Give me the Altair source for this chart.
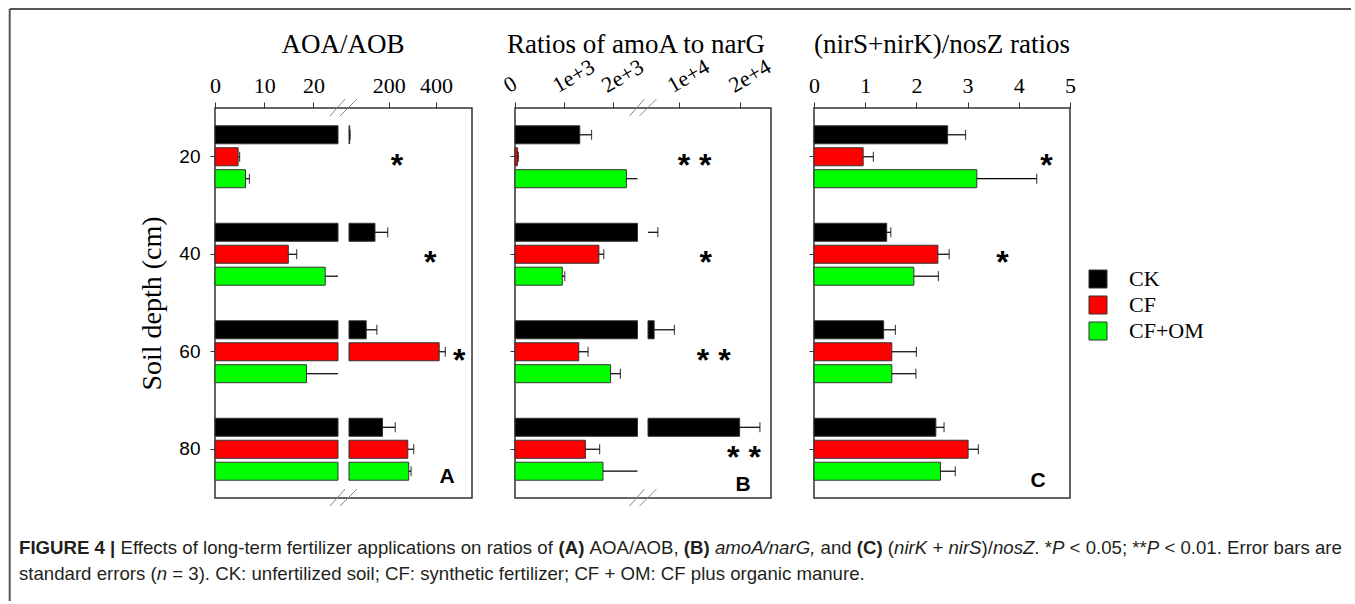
import altair as alt
import pandas as pd

SERIF = "Liberation Serif"
SANS = "Liberation Sans"

depths = [20, 40, 60, 80]
treatments = ["CK", "CF", "CF+OM"]
fill_colors = ["#000000", "#ff0000", "#00ff00"]

# ---- (A) AOA/AOB ----
a_mean_ck = [35, 142, 105, 174]
a_mean_cf = [4.7, 14.9, 414, 281]
a_mean_om = [6.2, 22.4, 18.6, 285]
a_se_ck = [1.5, 54, 45, 54]
a_se_cf = [0.3, 1.7, 26, 25]
a_se_om = [0.8, 3.5, 8, 10]

# ---- (B) amoA/narG ----
b_mean_ck = [1322, 4600, 6000, 19900]
b_mean_cf = [50, 1712, 1302, 1437]
b_mean_om = [2273, 965, 1951, 1795]
b_se_ck = [240, 2000, 3300, 3300]
b_se_cf = [20, 100, 190, 290]
b_se_om = [350, 50, 200, 800]

# ---- (C) (nirS+nirK)/nosZ ----
c_mean_ck = [2.61, 1.42, 1.36, 2.38]
c_mean_cf = [0.96, 2.42, 1.52, 3.01]
c_mean_om = [3.18, 1.95, 1.52, 2.47]
c_se_ck = [0.35, 0.08, 0.23, 0.16]
c_se_cf = [0.20, 0.22, 0.48, 0.20]
c_se_om = [1.17, 0.48, 0.47, 0.29]

# significance marks (depth, label, x position in data units)
a_sig_depth = [20, 40, 60]
a_sig_text = ["*", "*", "*"]
a_sig_x = [235, 376, 499]
b_sig_depth = [20, 40, 60, 80]
b_sig_text = ["* *", "*", "* *", "* *"]
b_sig_x = [12570, 14370, 15680, 20600]
c_sig_depth = [20, 40]
c_sig_text = ["*", "*"]
c_sig_x = [4.54, 3.68]

# axis breaks / tick values
a_left_dom, a_right_dom = [0, 25], [32, 553]
a_left_ticks, a_right_ticks = [0, 10, 20], [200, 400]
b_left_dom, b_right_dom = [0, 2500], [5000, 25000]
b_left_ticks, b_right_ticks = [0, 1000, 2000], [10000, 20000]
c_dom, c_ticks = [0, 5], [0, 1, 2, 3, 4, 5]


def long_df(means, ses):
    rows = []
    for t, m, s in zip(treatments, means, ses):
        for d, mv, sv in zip(depths, m, s):
            rows.append({"depth": d, "treatment": t, "mean": mv, "se": sv, "upper": mv + sv})
    return pd.DataFrame(rows)


dfA = long_df([a_mean_ck, a_mean_cf, a_mean_om], [a_se_ck, a_se_cf, a_se_om])
dfB = long_df([b_mean_ck, b_mean_cf, b_mean_om], [b_se_ck, b_se_cf, b_se_om])
dfC = long_df([c_mean_ck, c_mean_cf, c_mean_om], [c_se_ck, c_se_cf, c_se_om])

sigA = pd.DataFrame({"depth": a_sig_depth, "label": a_sig_text, "x": a_sig_x, "treatment": "CF"})
sigB = pd.DataFrame({"depth": b_sig_depth, "label": b_sig_text, "x": b_sig_x, "treatment": "CF"})
sigC = pd.DataFrame({"depth": c_sig_depth, "label": c_sig_text, "x": c_sig_x, "treatment": "CF"})

# one identical legend definition everywhere so the shared legend merges cleanly
LEGEND = alt.Legend(
    orient="none", legendX=872, legendY=160, title=None,
    symbolType="square", symbolSize=324, symbolStrokeColor="#333333", symbolStrokeWidth=1,
    labelFont=SERIF, labelFontSize=22, labelColor="black", labelOffset=20,
    rowPadding=4, padding=0,
)

yaxis_A = alt.Axis(
    title="Soil depth (cm)", titleFont=SERIF, titleFontSize=28, titleFontWeight="normal",
    titleColor="black", titlePadding=12,
    labelFont=SANS, labelFontSize=19, labelColor="black", labelPadding=10,
    tickSize=5, tickColor="#333333", domain=False, grid=False,
)
yaxis_plain = alt.Axis(title=None, labels=False, tickSize=5, tickColor="#333333", domain=False, grid=False)

yoff = alt.YOffset("treatment:N", sort=treatments,
                   scale=alt.Scale(paddingInner=0.18, paddingOuter=0.81))


def y_enc(axis):
    return alt.Y("depth:O", sort=depths, scale=alt.Scale(paddingInner=0, paddingOuter=0), axis=axis)


def x_axis(values, angle=0, align="center", expr=None, dx=0):
    kw = dict(orient="top", values=values, title=None, domain=False, grid=False,
              tickSize=6, tickColor="#333333", labelFont=SERIF, labelFontSize=22,
              labelColor="black", labelPadding=5, labelAngle=angle, labelAlign=align,
              labelFlush=False, labelOverlap=False)
    if expr:
        kw["labelExpr"] = expr
    if dx:
        kw["labelOffset"] = dx
    return alt.Axis(**kw)


COLOR = alt.Color("treatment:N", sort=treatments,
                  scale=alt.Scale(domain=treatments, range=fill_colors),
                  legend=LEGEND)


def segment(df, dom, rng, xaxis, yaxis, sig=None):
    lo, hi = dom
    sc = alt.Scale(domain=dom, range=rng, clamp=True, zero=False, nice=False)
    base = alt.Chart(df)
    bars = base.transform_filter(f"datum.mean > {lo}").mark_bar(
        stroke="#333333", strokeWidth=1
    ).encode(
        x=alt.X("mean:Q", scale=sc, axis=xaxis), x2=alt.datum(lo),
        y=y_enc(yaxis), yOffset=yoff, color=COLOR,
    )
    err = base.transform_filter(f"datum.mean < {hi} && datum.upper > {lo}").mark_rule(
        color="black", strokeWidth=1.2
    ).encode(
        x=alt.X("mean:Q", scale=sc, axis=xaxis), x2="upper:Q",
        y=y_enc(yaxis), yOffset=yoff,
    )
    caps = base.transform_filter(f"datum.upper > {lo} && datum.upper < {hi}").mark_tick(
        color="black", thickness=1.2, size=10
    ).encode(
        x=alt.X("upper:Q", scale=sc, axis=xaxis),
        y=y_enc(yaxis), yOffset=yoff,
    )
    layers = [bars, err, caps]
    if sig is not None:
        stars = alt.Chart(sig).mark_text(
            font=SANS, fontSize=32, fontWeight="bold", color="black",
            baseline="alphabetic", align="center", dy=19
        ).encode(
            x=alt.X("x:Q", scale=sc, axis=xaxis),
            y=y_enc(yaxis), yOffset=yoff, text="label:N",
        )
        layers.append(stars)
    return alt.layer(*layers)


one = pd.DataFrame({"k": [0]})


def deco_text(text, x, y, **kw):
    return alt.Chart(one).mark_text(text=text, **kw).encode(x=alt.value(x), y=alt.value(y))


def slash(x1, y1, x2, y2):
    return alt.Chart(one).mark_rule(color="#888888", strokeWidth=1).encode(
        x=alt.value(x1), x2=alt.value(x2), y=alt.value(y1), y2=alt.value(y2))


def breaks(gap_left):
    out = []
    for yc in (0, 390):
        out.append(slash(gap_left - 8, yc + 8, gap_left + 7, yc - 9))
        out.append(slash(gap_left + 2, yc + 8, gap_left + 19, yc - 9))
    return out


def panel_title(text, x):
    return deco_text(text, x, -55, font=SERIF, fontSize=27, color="black",
                     align="center", baseline="alphabetic")


def panel_letter(text, x, y):
    return deco_text(text, x, y, font=SANS, fontSize=21, fontWeight="bold",
                     align="center", baseline="middle", color="black")


VIEW = alt.ViewBackground(stroke="#333333", strokeWidth=1.5)

# ---- caption (with simple Arial-metric layout for mixed styles) ----
W_REG = {" ": 278, "(": 333, ")": 333, "*": 389, "+": 584, ",": 278, "-": 333, ".": 278, "/": 278,
         ":": 278, ";": 278, "<": 584, "=": 584, "|": 260,
         "A": 667, "B": 667, "C": 722, "E": 667, "F": 611, "G": 778, "I": 278, "K": 667, "M": 833,
         "O": 778, "P": 667, "R": 722, "S": 667, "U": 722, "Z": 611,
         "a": 556, "b": 556, "c": 500, "d": 556, "e": 556, "f": 278, "g": 556, "h": 556, "i": 222,
         "k": 500, "l": 222, "m": 833, "n": 556, "o": 556, "p": 556, "r": 333, "s": 500, "t": 278,
         "u": 556, "v": 500, "w": 722, "x": 500, "y": 500, "z": 500}
W_BOLD = {" ": 278, "(": 333, ")": 333, "|": 280, "A": 722, "B": 722, "C": 722, "E": 667, "F": 611,
          "G": 778, "I": 278, "R": 722, "U": 722}


def text_w(s, bold=False):
    tab = W_BOLD if bold else W_REG
    return sum(tab.get(ch, W_REG.get(ch, 556)) for ch in s) / 1000.0


line1 = [("FIGURE 4 |", "b"), (" ", "n"),
         ("Effects of long-term fertilizer applications on ratios of", "n"), (" ", "n"),
         ("(A)", "b"), (" ", "n"), ("AOA/AOB,", "n"), (" ", "n"), ("(B)", "b"), (" ", "n"),
         ("amoA/narG,", "i"), (" ", "n"), ("and", "n"), (" ", "n"), ("(C)", "b"), (" ", "n"),
         ("(", "n"), ("nirK + nirS", "i"), (")/", "n"), ("nosZ", "i"), (". *", "n"), ("P", "i"),
         (" ", "n"), ("< 0.05; **", "n"), ("P", "i"), (" ", "n"), ("< 0.01. Error bars are", "n")]
line2 = [("standard errors (", "n"), ("n", "i"),
         (" ", "n"), ("= 3). CK: unfertilized soil; CF: synthetic fertilizer; CF + OM: CF plus organic manure.", "n")]

# positions below are relative to panel A's plot origin (213.3, 107) in the page
CAP_X0, CAP_X1 = -196, 1127
line1_em = sum(text_w(s, st == "b") for s, st in line1)
CAP_FS = (CAP_X1 - CAP_X0) / line1_em


def caption_line(parts, y):
    out = []
    x = CAP_X0
    for s, st in parts:
        if s.strip():
            kw = dict(font=SANS, fontSize=CAP_FS, color="#231f20", align="left", baseline="middle")
            if st == "b":
                kw["fontWeight"] = "bold"
            if st == "i":
                kw["fontStyle"] = "italic"
            out.append(deco_text(s, x, y, **kw))
        x += text_w(s, st == "b") * CAP_FS
    return out


frame_left = alt.Chart(one).mark_rule(color="#555555", strokeWidth=2).encode(
    x=alt.value(-205.3), y=alt.value(-99), y2=alt.value(493))
frame_top = alt.Chart(one).mark_rule(color="#555555", strokeWidth=2).encode(
    x=alt.value(-205.3), x2=alt.value(1136), y=alt.value(-99))

panelA = alt.layer(
    segment(dfA, a_left_dom, [0, 123], x_axis(a_left_ticks), yaxis_A),
    segment(dfA, a_right_dom, [134, 257], x_axis(a_right_ticks), yaxis_A, sig=sigA),
    *breaks(123),
    panel_title("AOA/AOB", 128),
    panel_letter("A", 232, 369),
    frame_left, frame_top,
    *caption_line(line1, 440),
    *caption_line(line2, 466),
).resolve_scale(x="independent").properties(width=257, height=390, view=VIEW)

b_expr = "datum.value == 0 ? '0' : format(datum.value, '~e')"
panelB = alt.layer(
    segment(dfB, b_left_dom, [0, 122.5], x_axis(b_left_ticks, angle=330, align="left", expr=b_expr, dx=-4), yaxis_plain),
    segment(dfB, b_right_dom, [133, 256], x_axis(b_right_ticks, angle=330, align="left", expr=b_expr, dx=-4), yaxis_plain, sig=sigB),
    *breaks(122.5),
    panel_title("Ratios of amoA to narG", 121),
    panel_letter("B", 228, 377),
).resolve_scale(x="independent").properties(width=256, height=390, view=VIEW)

panelC = alt.layer(
    segment(dfC, c_dom, [0, 256], x_axis(c_ticks), yaxis_plain, sig=sigC),
    panel_title("(nirS+nirK)/nosZ ratios", 128),
    panel_letter("C", 224, 373),
).properties(width=256, height=390, view=VIEW)

chart = alt.hconcat(panelA, panelB, panelC, spacing=43, bounds="flush").properties(
    padding={"left": 7, "top": 7, "right": 0, "bottom": 0}
).configure_view(strokeWidth=0)

chart.save("out.html", embed_options={"renderer": "svg", "actions": False})
